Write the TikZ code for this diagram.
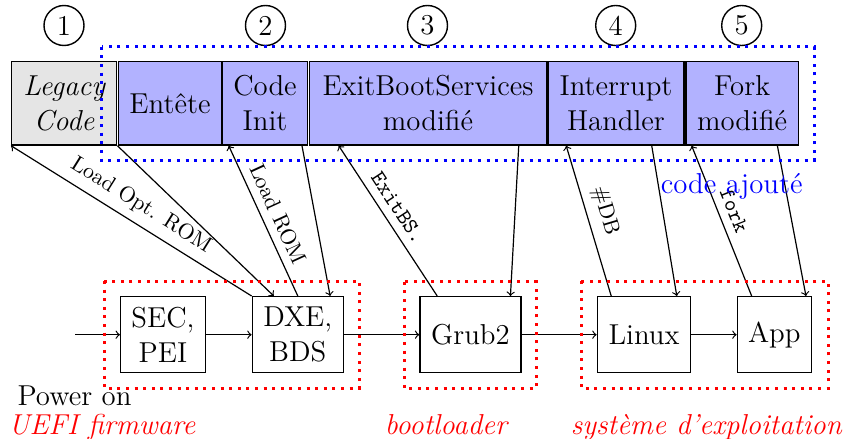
\documentclass[tikz,border=0pt]{standalone}
\usepackage{fontspec}
\usetikzlibrary{calc}
\begin{document}
\begin{tikzpicture}[x=0.5pt,y=-0.5pt,
  box/.style={draw, line width=0.7pt, inner sep=0pt, align=center, font=\fontsize{14.4}{17.5}\selectfont},
  topbox/.style={box, fill=blue!30, minimum height=41.65pt},
  botbox/.style={box, minimum height=38pt},
  circ/.style={draw, line width=0.7pt, circle, minimum size=20pt, inner sep=0pt, font=\fontsize{14.4}{17.5}\selectfont},
  arr/.style={->, line width=0.6pt},
  lbl/.style={font=\fontsize{10.95}{13}\selectfont, sloped, above, inner sep=4pt},
  txt/.style={inner sep=0pt, anchor=base, font=\fontsize{14.4}{17.5}\selectfont},
  grp/.style={line width=1.5pt, dash pattern=on 1.5pt off 2.8pt},
]
\useasboundingbox (0,0) rectangle (848,439);

% top row
\node[topbox, fill=black!10, minimum width=52.5pt, font=\fontsize{14.4}{17.5}\selectfont\itshape] (legacy) at (64.2,103.35) {Legacy\\Code};
\node[topbox, minimum width=51.7pt] (entete) at (170,103.35) {Entête};
\node[topbox, minimum width=42.3pt] (init) at (265,103.35) {Code\\Init};
\node[topbox, minimum width=118.7pt] (exitbs) at (428,103.35) {ExitBootServices\\modifié};
\node[topbox, minimum width=68pt] (irq) at (616,103.35) {Interrupt\\Handler};
\node[topbox, minimum width=56.15pt] (fork) at (742.15,103.35) {Fork\\modifié};

% numbered circles
\node[circ] (n1) at (64,25.5) {1};
\node[circ] (n2) at (265.5,25.5) {2};
\node[circ] (n3) at (427.5,25.5) {3};
\node[circ] (n4) at (615.7,25.5) {4};
\node[circ] (n5) at (741.7,25.5) {5};

% bottom row
\node[botbox, minimum width=42.3pt] (sec) at (163,334.7) {SEC,\\PEI};
\node[botbox, minimum width=45.5pt] (dxe) at (297.8,334.7) {DXE,\\BDS};
\node[botbox, minimum width=50.5pt] (grub) at (470.5,334.7) {Grub2};
\node[botbox, minimum width=46.7pt] (linux) at (644,334.7) {Linux};
\node[botbox, minimum width=37pt] (app) at (774.3,334.7) {App};

% chain
\coordinate (pwr) at (75,334.7);
\draw[arr] (pwr) -- (sec);
\draw[arr] (sec) -- (dxe);
\draw[arr] (dxe) -- (grub);
\draw[arr] (grub) -- (linux);
\draw[arr] (linux) -- (app);

% vertical interactions
\draw[arr] (dxe.north west) -- node[lbl] {Load Opt. ROM} (legacy.south west);
\draw[arr] (legacy.south east) -- ($(dxe.north west)!0.24!(dxe.north east)$);

\draw[arr] (dxe.north) -- node[lbl] {Load ROM} ($(init.south west)!0.078!(init.south east)$);
\draw[arr] ($(init.south west)!0.93!(init.south east)$) -- ($(dxe.north west)!0.85!(dxe.north east)$);

\draw[arr] ($(grub.north west)!0.175!(grub.north east)$) -- node[lbl, pos=0.53] {\ttfamily ExitBS.} ($(exitbs.south west)!0.126!(exitbs.south east)$);
\draw[arr] ($(exitbs.south west)!0.88!(exitbs.south east)$) -- ($(grub.north west)!0.89!(grub.north east)$);

\draw[arr] ($(linux.north west)!0.154!(linux.north east)$) -- node[lbl, pos=0.53] {\#DB} ($(irq.south west)!0.1375!(irq.south east)$);
\draw[arr] ($(irq.south west)!0.76!(irq.south east)$) -- ($(linux.north west)!0.846!(linux.north east)$);

\draw[arr] ($(app.north west)!0.2!(app.north east)$) -- node[lbl, pos=0.53] {\ttfamily fork} ($(fork.south west)!0.056!(fork.south east)$);
\draw[arr] ($(fork.south west)!0.81!(fork.south east)$) -- ($(app.north west)!0.92!(app.north east)$);

% groups
\draw[grp, blue] (101.7,46.7) rectangle (814,160.7);
\draw[grp, red] (104.3,281) rectangle (359.3,388.3);
\draw[grp, red] (404,281.7) rectangle (536,388.3);
\draw[grp, red] (581.3,281) rectangle (828,388.3);

% texts
\node[txt, text=blue, anchor=base east] (added) at (803,193) {code ajouté};
\node[txt] (poweron) at (74.5,405) {Power on};
\node[txt, text=red, font=\fontsize{14.4}{17.5}\selectfont\itshape] (uefi) at (102,434) {UEFI firmware};
\node[txt, text=red, font=\fontsize{14.4}{17.5}\selectfont\itshape] (boot) at (446,434) {bootloader};
\node[txt, text=red, font=\fontsize{14.4}{17.5}\selectfont\itshape] (os) at (706.3,434) {système d'exploitation};
\end{tikzpicture}
\end{document}
